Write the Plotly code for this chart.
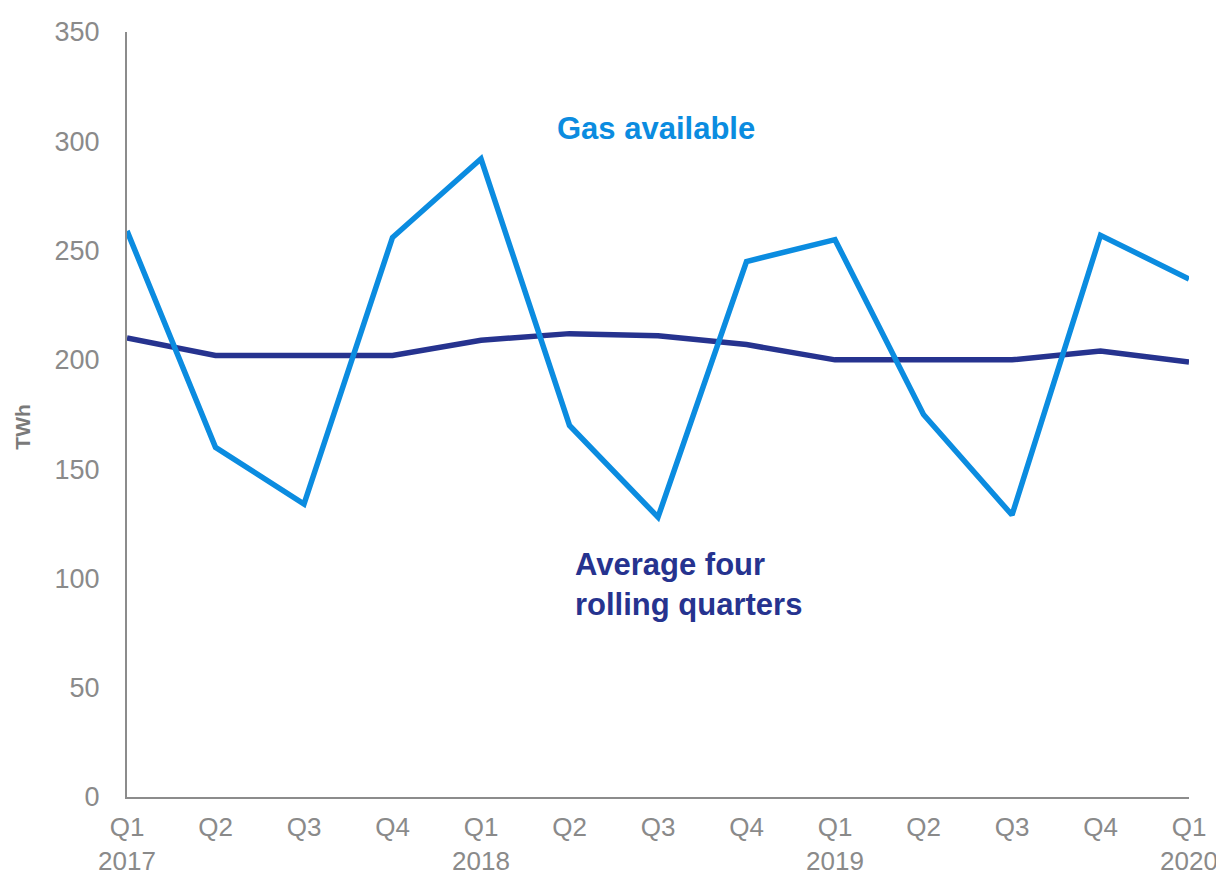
import plotly.graph_objects as go

quarters = ["Q1<br>2017", "Q2", "Q3", "Q4", "Q1<br>2018", "Q2", "Q3", "Q4",
            "Q1<br>2019", "Q2", "Q3", "Q4", "Q1<br>2020"]
gas_available = [259, 160, 134, 256, 292, 170, 128, 245, 255, 175, 129, 257, 237]
rolling_avg = [210, 202, 202, 202, 209, 212, 211, 207, 200, 200, 200, 204, 199]
y_ticks = [0, 50, 100, 150, 200, 250, 300, 350]

x_idx = list(range(len(quarters)))

fig = go.Figure()
fig.add_trace(go.Scatter(x=x_idx, y=rolling_avg, mode="lines",
                         line=dict(color="#26338f", width=5.5), name="Average four rolling quarters"))
fig.add_trace(go.Scatter(x=x_idx, y=gas_available, mode="lines",
                         line=dict(color="#0b8ce0", width=5.5), name="Gas available"))

fig.add_annotation(x=5.98, y=306, text="<b>Gas available</b>", showarrow=False,
                   xref="x", yref="y", xanchor="center", yanchor="middle",
                   font=dict(family="Liberation Sans, Arial", size=31, color="#0b8ce0"))
fig.add_annotation(x=5.04, y=97, text="<b>Average four<br>rolling quarters</b>", showarrow=False,
                   xref="x", yref="y", xanchor="left", yanchor="middle", align="left",
                   font=dict(family="Liberation Sans, Arial", size=31, color="#26338f"))
fig.add_annotation(x=-0.098, y=0.484, text="<b>TWh</b>", showarrow=False, textangle=-90,
                   xref="paper", yref="paper", xanchor="center", yanchor="middle",
                   font=dict(family="Liberation Sans, Arial", size=21, color="#7a7a7a"))

fig.update_layout(
    width=1216, height=867,
    margin=dict(l=119, r=35, t=24, b=78, autoexpand=False),
    paper_bgcolor="white", plot_bgcolor="white",
    showlegend=False,
    font=dict(family="Liberation Sans, Arial", size=26, color="#8a8a8a"),
)
fig.update_xaxes(
    range=[0, len(quarters) - 1], tickvals=x_idx, ticktext=quarters,
    showgrid=False, zeroline=False, showline=True, linecolor="#8c8c8c", linewidth=2,
    ticks="", tickfont=dict(size=26, color="#8a8a8a"), ticklabelstandoff=6,
    automargin=False,
)
fig.update_yaxes(
    range=[0, 350], tickvals=y_ticks, showgrid=False, zeroline=False,
    showline=True, linecolor="#8c8c8c", linewidth=2, ticks="",
    tickfont=dict(size=27, color="#8a8a8a"), ticklabelstandoff=20,
    automargin=False,
)

fig.write_html("out.html")
